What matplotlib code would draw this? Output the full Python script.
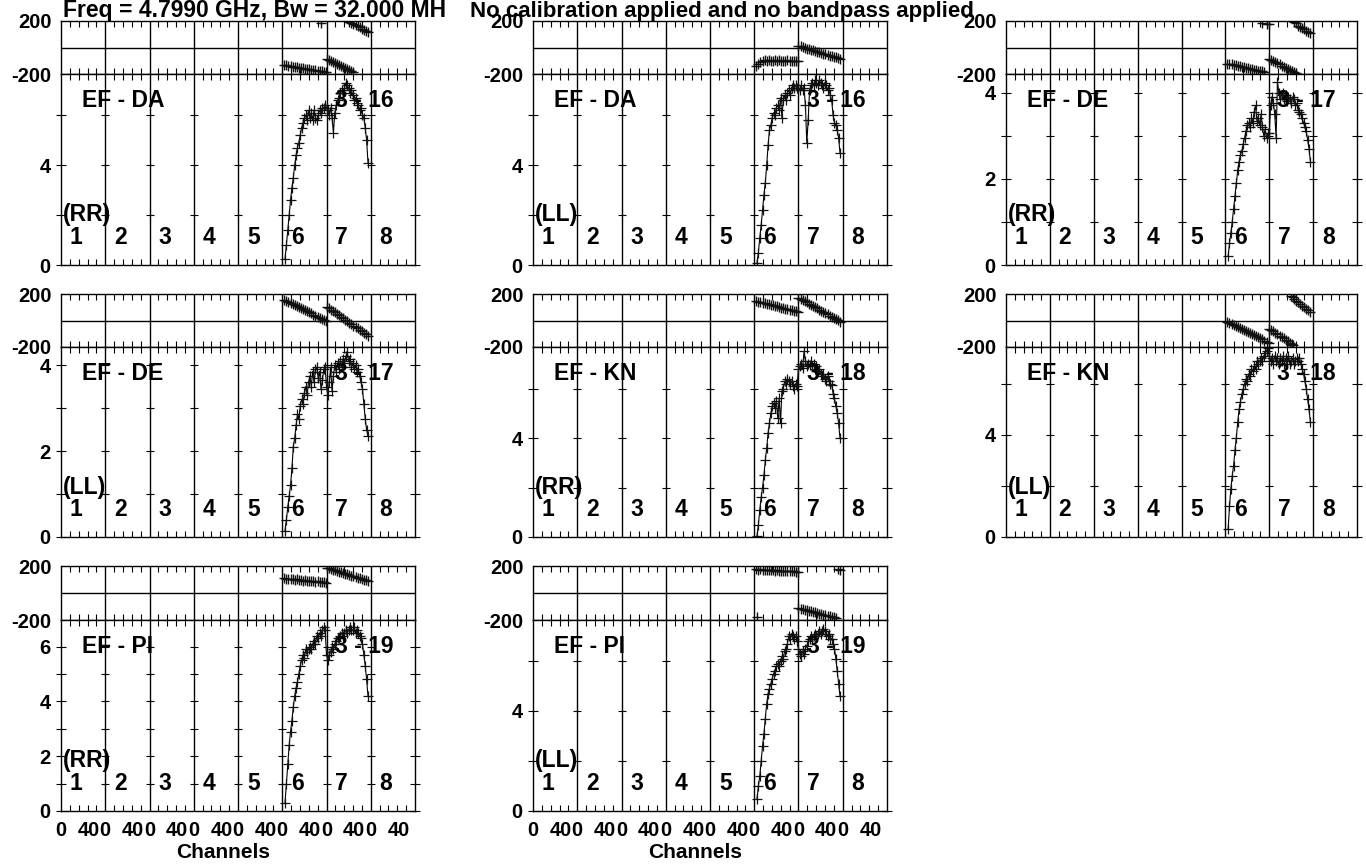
import matplotlib
matplotlib.use('Agg')
import matplotlib.pyplot as plt
from matplotlib.transforms import blended_transform_factory

# ---------------- data ----------------
title_left = "Freq = 4.7990 GHz, Bw = 32.000 MH"
title_right = "No calibration applied and no bandpass applied"
if_labels = ['1', '2', '3', '4', '5', '6', '7', '8']
chan_tick_labels = ['0', '40']

amp_ch6 = [4, 6, 8, 10, 12, 14, 16, 18, 20, 22, 24, 26, 28, 30, 32, 34, 36, 38, 40, 42, 44, 46, 48, 50, 52, 54, 56, 58, 60, 62]
amp_ch7 = [0, 2, 4, 6, 8, 10, 12, 14, 16, 18, 20, 22, 24, 26, 28, 30, 32, 34, 36, 38, 40, 42, 44, 46, 48, 50, 52, 54, 56, 58, 60]
ph_ch6 = [3, 6, 9, 12, 15, 18, 21, 24, 27, 30, 33, 36, 39, 42, 45, 48, 51, 54, 57, 60, 63]
ph_ch7 = [0, 3, 6, 9, 12, 15, 18, 21, 24, 27, 30, 33, 36, 39, 42, 45, 48, 51, 54, 57, 60]

# EF - DA (RR)
da_rr_amp6 = [0.25, 0.8, 1.4, 2.0, 2.6, 3.1, 3.5, 4.0, 4.4, 4.7, 4.9, 5.2, 5.5, 5.7, 5.9, 6.0, 5.8, 6.2, 5.9, 6.1, 5.8, 6.2, 5.9, 5.8, 6.0, 6.2, 6.1, 6.3, 6.3, 6.4]
da_rr_amp7 = [6.3, 6.2, 6.0, 6.3, 5.9, 5.3, 6.1, 6.4, 6.6, 6.7, 6.9, 7.0, 6.9, 7.1, 7.3, 7.2, 7.1, 6.9, 7.0, 6.8, 6.6, 6.7, 6.5, 6.4, 6.2, 6.3, 6.0, 5.9, 5.5, 5.0, 4.1]
da_rr_ph6 = [-130, -134, -138, -140, -144, -146, -149, -152, -155, -157, -161, -163, -166, -168, -171, -173, -176, -179, -181, -184, -187]
da_rr_ph7 = [-86, -93, -101, -108, -116, -124, -132, -140, -148, -156, -163, -171, -179, -188, 168, 160, 151, 142, 133, 124, 114]
da_rr_extra = [(6, 56, 184), (7, 33, 194), (7, 36, 187), (7, 39, 178)]

# EF - DA (LL)
da_ll_amp6 = [0.1, 0.5, 1.1, 1.6, 2.2, 2.8, 3.3, 4.0, 4.8, 5.4, 5.6, 5.9, 6.1, 6.0, 6.3, 6.4, 6.2, 6.7, 5.9, 6.6, 6.8, 6.6, 6.9, 7.0, 6.8, 7.1, 7.2, 7.1, 7.2, 7.1]
da_ll_amp7 = [7.1, 7.0, 7.2, 7.0, 7.1, 6.4, 4.9, 5.8, 7.0, 7.2, 7.3, 7.2, 7.4, 7.3, 7.2, 7.4, 7.3, 7.2, 7.1, 7.3, 7.2, 7.0, 7.1, 6.8, 6.6, 6.0, 5.7, 5.6, 5.4, 5.1, 4.5]
da_ll_ph6 = [-138, -122, -110, -100, -96, -101, -97, -99, -103, -98, -100, -95, -102, -99, -104, -97, -101, -99, -103, -100, -105]
da_ll_ph7 = [12, 8, 2, -3, -8, -12, -18, -22, -27, -32, -37, -42, -47, -51, -56, -61, -66, -70, -75, -80, -84]
da_ll_extra = []

# EF - DE (RR)
de_rr_amp6 = [0.2, 0.5, 0.75, 1.0, 1.3, 1.6, 1.9, 2.2, 2.4, 2.55, 2.65, 2.8, 2.95, 3.1, 3.25, 3.3, 3.2, 3.4, 3.3, 3.55, 3.7, 3.35, 3.4, 3.25, 3.5, 3.2, 3.0, 3.15, 2.95, 3.05]
de_rr_amp7 = [3.05, 3.7, 3.9, 3.75, 3.5, 2.95, 4.25, 4.0, 3.85, 3.95, 4.0, 3.85, 3.95, 3.8, 3.9, 3.85, 3.75, 3.9, 3.85, 3.7, 3.75, 3.6, 3.55, 3.5, 3.4, 3.3, 3.2, 3.1, 2.9, 2.7, 2.4]
de_rr_ph6 = [-121, -125, -128, -132, -135, -139, -142, -146, -150, -153, -157, -160, -164, -167, -171, -174, -178, -181, -185, 178, 175]
de_rr_ph7 = [-88, -96, -104, -112, -120, -128, -136, -144, -152, -159, -167, -175, -183, -191, 166, 156, 146, 136, 126, 116, 106]
de_rr_extra = [(6, 54, 186), (7, 36, 193), (7, 39, 183)]

# EF - DE (LL)
de_ll_amp6 = [0.15, 0.4, 0.7, 0.95, 1.2, 1.6, 2.1, 2.3, 2.6, 2.85, 2.75, 3.05, 3.2, 3.1, 3.35, 3.5, 3.3, 3.6, 3.75, 3.5, 3.85, 3.6, 3.9, 3.95, 3.7, 3.85, 3.45, 3.65, 3.9, 3.95]
de_ll_amp7 = [3.5, 3.3, 3.6, 3.95, 3.4, 3.75, 4.0, 3.85, 4.05, 3.9, 4.1, 3.95, 4.15, 4.05, 4.2, 4.3, 4.1, 4.15, 3.95, 4.05, 3.9, 4.0, 3.85, 3.9, 3.75, 3.6, 3.45, 3.1, 2.75, 2.5, 2.35]
de_ll_ph6 = [155, 147, 139, 131, 124, 116, 108, 100, 92, 84, 77, 69, 61, 53, 45, 37, 29, 22, 14, 6, -2]
de_ll_ph7 = [105, 94, 83, 72, 61, 50, 39, 28, 17, 6, -5, -16, -27, -38, -49, -60, -71, -82, -93, -104, -115]
de_ll_extra = []

# EF - KN (RR)
kn_rr_amp6 = [0.05, 0.5, 1.1, 1.6, 2.0, 2.5, 3.1, 3.6, 4.2, 4.6, 5.0, 5.3, 5.4, 5.2, 5.5, 4.8, 5.6, 4.6, 5.9, 6.0, 6.3, 6.2, 6.4, 6.3, 6.2, 6.3, 6.1, 6.0, 6.2, 6.1]
kn_rr_amp7 = [6.8, 6.9, 7.0, 6.85, 7.5, 7.1, 6.9, 7.0, 6.95, 7.1, 6.9, 7.0, 6.8, 6.9, 6.7, 6.8, 6.6, 6.5, 6.6, 6.4, 6.3, 6.5, 6.3, 6.2, 6.15, 5.8, 5.6, 5.3, 5.0, 4.6, 4.0]
kn_rr_ph6 = [147, 142, 138, 134, 130, 126, 122, 118, 114, 110, 106, 102, 98, 94, 90, 86, 82, 78, 74, 70, 66]
kn_rr_ph7 = [172, 163, 154, 145, 136, 127, 118, 109, 100, 91, 82, 73, 64, 55, 46, 37, 28, 19, 10, 1, -8]
kn_rr_extra = []

# EF - KN (LL)
kn_ll_amp6 = [0.3, 1.2, 1.9, 2.4, 2.8, 3.4, 3.9, 4.5, 5.0, 5.3, 5.6, 5.8, 6.0, 6.2, 6.1, 6.4, 6.3, 6.6, 6.5, 6.7, 6.6, 6.9, 6.8, 6.9, 7.0, 6.9, 7.1, 7.2, 7.3, 7.4]
kn_ll_amp7 = [7.1, 6.9, 7.0, 6.8, 7.1, 6.9, 7.0, 6.8, 7.0, 6.9, 7.1, 6.8, 7.0, 6.9, 7.1, 6.8, 6.9, 7.0, 6.8, 6.9, 7.0, 6.9, 7.0, 6.8, 6.6, 6.4, 6.1, 5.8, 5.4, 5.0, 4.5]
kn_ll_ph6 = [-10, -18, -26, -34, -42, -50, -57, -65, -73, -81, -88, -96, -104, -112, -120, -127, -135, -143, -151, -159, -167]
kn_ll_ph7 = [-62, -72, -83, -93, -104, -114, -125, -135, -146, -156, -167, -178, 162, 150, 138, 125, 113, 101, 88, 76, 64]
kn_ll_extra = [(7, 31, 186), (7, 34, 175), (7, 35, -187)]

# EF - PI (RR)
pi_rr_amp6 = [0.3, 1.0, 1.7, 2.4, 2.9, 3.3, 3.8, 4.2, 4.5, 4.7, 5.0, 5.3, 5.5, 5.7, 5.6, 5.9, 5.8, 5.9, 6.0, 5.9, 6.1, 6.2, 6.1, 6.4, 6.3, 6.5, 6.4, 6.6, 6.7, 6.6]
pi_rr_amp7 = [5.7, 5.5, 5.7, 5.8, 6.0, 5.9, 6.1, 6.2, 6.3, 6.3, 6.4, 6.5, 6.4, 6.5, 6.6, 6.5, 6.6, 6.7, 6.6, 6.6, 6.7, 6.5, 6.6, 6.5, 6.4, 6.3, 6.1, 5.7, 5.3, 4.8, 4.2]
pi_rr_ph6 = [108, 104, 107, 101, 104, 98, 101, 95, 98, 92, 95, 89, 92, 86, 89, 83, 86, 80, 83, 78, 76]
pi_rr_ph7 = [188, 183, 178, 173, 168, 163, 158, 153, 148, 143, 138, 133, 128, 123, 118, 113, 108, 103, 98, 93, 88]
pi_rr_extra = []

# EF - PI (LL)
pi_ll_amp6 = [0.5, 1.0, 1.4, 2.0, 2.6, 3.1, 3.7, 4.3, 4.7, 4.9, 5.1, 5.3, 5.5, 5.6, 5.8, 5.9, 5.8, 6.0, 6.2, 6.1, 6.4, 6.5, 6.7, 7.0, 6.9, 7.1, 7.0, 6.9, 7.0, 6.8]
pi_ll_amp7 = [6.5, 6.3, 6.2, 6.4, 6.3, 6.5, 6.6, 6.8, 6.9, 7.0, 6.9, 7.0, 7.1, 7.0, 7.1, 7.2, 7.1, 7.2, 7.3, 7.2, 7.1, 7.0, 7.1, 6.9, 6.9, 6.7, 6.5, 6.1, 5.6, 5.1, 4.6]
pi_ll_ph6 = [176, 173, 175, 171, 173, 169, 171, 167, 169, 166, 168, 164, 166, 163, 165, 161, 163, 160, 162, 158, 157]
pi_ll_ph7 = [-112, -116, -120, -124, -128, -132, -136, -140, -144, -148, -152, -156, -160, -164, -168, -172, -176, -180, -184, 176, 172]
pi_ll_extra = [(6, 4, -181)]

# ---------------- layout ----------------
W, H = 1366, 866
N_IF, NCH = 8, 64
plt.rcParams['font.family'] = ['Liberation Sans', 'DejaVu Sans']
plt.rcParams['font.weight'] = 'bold'
plt.rcParams['axes.linewidth'] = 1.0

fig = plt.figure(figsize=(W / 100, H / 100), dpi=100)
fig.patch.set_facecolor('white')

col_left = [61, 533, 1006]
col_width = [354, 354, 351]
row_top = [21, 294, 566]
row_mid = [74, 347, 620]
row_bot = [265, 537, 811]

panels = [
    dict(c=0, r=0, name='EF - DA', pol='(RR)', bl='3 - 16', a6=da_rr_amp6, a7=da_rr_amp7, p6=da_rr_ph6, p7=da_rr_ph7, ex=da_rr_extra, top=7.65, ticks=[2, 4, 6], lab=[0, 4]),
    dict(c=1, r=0, name='EF - DA', pol='(LL)', bl='3 - 16', a6=da_ll_amp6, a7=da_ll_amp7, p6=da_ll_ph6, p7=da_ll_ph7, ex=da_ll_extra, top=7.65, ticks=[2, 4, 6], lab=[0, 4]),
    dict(c=2, r=0, name='EF - DE', pol='(RR)', bl='3 - 17', a6=de_rr_amp6, a7=de_rr_amp7, p6=de_rr_ph6, p7=de_rr_ph7, ex=de_rr_extra, top=4.43, ticks=[1, 2, 3, 4], lab=[0, 2, 4]),
    dict(c=0, r=1, name='EF - DE', pol='(LL)', bl='3 - 17', a6=de_ll_amp6, a7=de_ll_amp7, p6=de_ll_ph6, p7=de_ll_ph7, ex=de_ll_extra, top=4.42, ticks=[1, 2, 3, 4], lab=[0, 2, 4]),
    dict(c=1, r=1, name='EF - KN', pol='(RR)', bl='3 - 18', a6=kn_rr_amp6, a7=kn_rr_amp7, p6=kn_rr_ph6, p7=kn_rr_ph7, ex=kn_rr_extra, top=7.68, ticks=[2, 4, 6], lab=[0, 4]),
    dict(c=2, r=1, name='EF - KN', pol='(LL)', bl='3 - 18', a6=kn_ll_amp6, a7=kn_ll_amp7, p6=kn_ll_ph6, p7=kn_ll_ph7, ex=kn_ll_extra, top=7.45, ticks=[2, 4, 6], lab=[0, 4]),
    dict(c=0, r=2, name='EF - PI', pol='(RR)', bl='3 - 19', a6=pi_rr_amp6, a7=pi_rr_amp7, p6=pi_rr_ph6, p7=pi_rr_ph7, ex=pi_rr_extra, top=6.97, ticks=[1, 2, 3, 4, 5, 6], lab=[0, 2, 4, 6]),
    dict(c=1, r=2, name='EF - PI', pol='(LL)', bl='3 - 19', a6=pi_ll_amp6, a7=pi_ll_amp7, p6=pi_ll_ph6, p7=pi_ll_ph7, ex=pi_ll_extra, top=7.64, ticks=[2, 4, 6], lab=[0, 4]),
]

bounds = [NCH * k for k in range(1, N_IF)]
major_x = []
major_lab = []
for k in range(N_IF):
    for j, t in enumerate((0, 40)):
        major_x.append(NCH * k + t)
        major_lab.append(chan_tick_labels[j])
minor_x = [NCH * k + NCH * m / 5 for k in range(N_IF) for m in (1, 2, 3, 4)]

TICK_FS = 14.5
LAB_FS = 16.5
MK = dict(marker='+', ms=7, mew=0.9, color='#111111', ls='none')
MKP = dict(marker='+', ms=7.5, mew=1.0, color='#111111', ls='none')


def setup_x(ax, labels):
    ax.set_xlim(0, NCH * N_IF)
    ax.set_xticks(major_x)
    ax.set_xticks(minor_x, minor=True)
    ax.tick_params(axis='x', which='minor', direction='in', top=True, bottom=True,
                   length=4.5, width=0.8)
    ax.tick_params(axis='x', which='major', direction='in', top=False, bottom=False,
                   length=0, labelsize=TICK_FS, pad=7)
    if labels:
        ax.set_xticklabels(major_lab)
    else:
        ax.tick_params(axis='x', labelbottom=False)
    for b in bounds:
        ax.axvline(b, color='k', lw=1.0, zorder=1)


for p in panels:
    L = col_left[p['c']]
    w = col_width[p['c']]
    t, m, bt = row_top[p['r']], row_mid[p['r']], row_bot[p['r']]

    # phase axes
    axp = fig.add_axes([L / W, 1 - m / H, w / W, (m - t) / H])
    setup_x(axp, False)
    axp.set_ylim(-200, 200)
    axp.set_yticks([-200, 200])
    axp.set_yticklabels(['-200', '200'])
    axp.tick_params(axis='y', length=0, labelsize=TICK_FS, pad=7)
    axp.axhline(0, color='k', lw=1.0, zorder=1)
    axp.plot([5 * NCH + c for c in ph_ch6], p['p6'], clip_on=True, **MKP)
    axp.plot([6 * NCH + c for c in ph_ch7], p['p7'], clip_on=True, **MKP)
    if p['ex']:
        axp.plot([(i - 1) * NCH + c for i, c, v in p['ex']], [v for i, c, v in p['ex']], clip_on=True, **MKP)

    # amplitude axes
    axa = fig.add_axes([L / W, 1 - bt / H, w / W, (bt - m) / H])
    setup_x(axa, p['r'] == 2)
    axa.set_ylim(0, p['top'])
    yv = [0] + p['ticks']
    axa.set_yticks(yv)
    axa.set_yticklabels([str(v) if v in p['lab'] else '' for v in yv])
    axa.tick_params(axis='y', which='both', direction='inout', left=True, right=True,
                    length=7, width=0.8, labelsize=TICK_FS, pad=4)
    for b in bounds:
        axa.plot([b] * len(p['ticks']), p['ticks'], ls='none', marker='_', ms=5.5, mew=0.8, color='k')
    xs = [5 * NCH + c for c in amp_ch6] + [6 * NCH + c for c in amp_ch7]
    ys = list(p['a6']) + list(p['a7'])
    axa.plot(xs, ys, color='k', lw=0.8)
    axa.plot(xs, ys, **MK)

    # labels
    axa.text(0.059, 0.862, p['name'], transform=axa.transAxes, ha='left', va='center', fontsize=LAB_FS, fontweight='bold')
    axa.text(0.94, 0.862, p['bl'], transform=axa.transAxes, ha='right', va='center', fontsize=LAB_FS, fontweight='bold')
    axa.text(0.006, 0.262, p['pol'], transform=axa.transAxes, ha='left', va='center', fontsize=LAB_FS, fontweight='bold')
    tr = blended_transform_factory(axa.transData, axa.transAxes)
    for k, s in enumerate(if_labels):
        axa.text(NCH * k + 22, 0.145, s, transform=tr, ha='center', va='center', fontsize=LAB_FS, fontweight='bold')

# channels labels
for c in (0, 1):
    cx = col_left[c] + col_width[c] / 2 - 15
    fig.text(cx / W, 1 - 853 / H, 'Channels', ha='center', va='center', fontsize=15, fontweight='bold')

# title
fig.text(63 / W, 1 - 16.5 / H, title_left, ha='left', va='baseline', fontsize=16.5, fontweight='bold')
fig.text(470 / W, 1 - 16.5 / H, title_right, ha='left', va='baseline', fontsize=16.0, fontweight='bold')

fig.savefig('out.png', dpi=100, facecolor='white')
